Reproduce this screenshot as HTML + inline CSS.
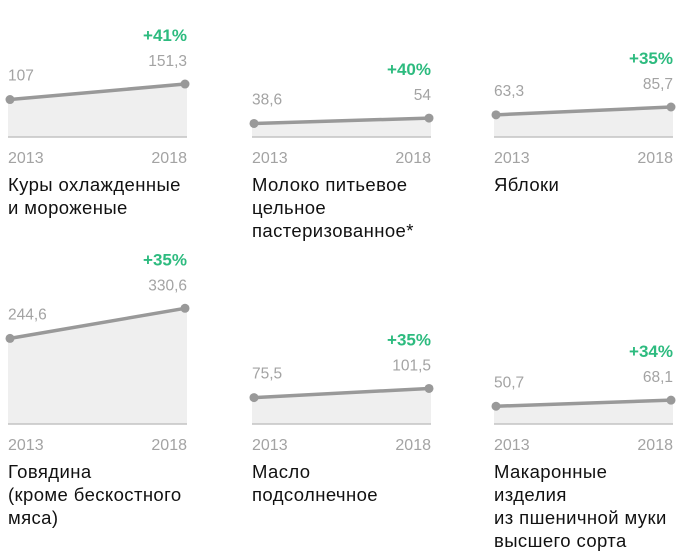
<!DOCTYPE html>
<html><head><meta charset="utf-8"><style>
body{margin:0;background:#fff;width:680px;height:556px;overflow:hidden;font-family:"Liberation Sans","DejaVu Sans",sans-serif}
svg{display:block}
</style></head><body>
<svg id="chart" width="680" height="556" xmlns="http://www.w3.org/2000/svg"></svg>
<script>
const titles=[["Куры охлажденные","и мороженые"],["Молоко питьевое","цельное","пастеризованное*"],["Яблоки"],["Говядина","(кроме бескостного","мяса)"],["Масло","подсолнечное"],["Макаронные","изделия","из пшеничной муки","высшего сорта"]];
const startVals=[107,38.6,63.3,244.6,75.5,50.7];
const endVals=[151.3,54,85.7,330.6,101.5,68.1];
const startLabels=["107","38,6","63,3","244,6","75,5","50,7"];
const endLabels=["151,3","54","85,7","330,6","101,5","68,1"];
const pctLabels=["+41%","+40%","+35%","+35%","+35%","+34%"];
const years=["2013","2018"];

const svg=document.getElementById('chart');
const NS='http://www.w3.org/2000/svg';
const colX=[8,252,494], W=179, baseY=[137,424], k=0.35;
function yScale(v,row){return baseY[row]-v*k;}
function mk(tag,attrs,parent){const e=document.createElementNS(NS,tag);for(const a in attrs)e.setAttribute(a,attrs[a]);(parent||svg).appendChild(e);return e;}
function txt(s,x,y,anchor,fill,size,weight,parent){const t=mk('text',{x:x,y:y,'text-anchor':anchor,fill:fill,'font-size':size,'font-weight':weight||'normal'},parent);t.textContent=s;return t;}
for(let i=0;i<6;i++){
  const row=Math.floor(i/3), x0=colX[i%3], x1=x0+W, b=baseY[row];
  const g=mk('g',{});
  
  
  const y0=yScale(startVals[i],row), y1=yScale(endVals[i],row);
  const ax0=x0+2, ax1=x1-2;
  const area=mk('polygon',{points:`${x0},${b} ${x0},${y0} ${ax0},${y0} ${ax1},${y1} ${x1},${y1} ${x1},${b}`,fill:'#efefef'},g);
  
  
  const base=mk('line',{x1:x0,x2:x1,y1:b,y2:b,stroke:'#c4c4c4','stroke-width':1.5},g);
  
  
  const ln=mk('line',{x1:ax0,y1:y0,x2:ax1,y2:y1,stroke:'#999','stroke-width':3.5},g);
  
  
  const d0=mk('circle',{cx:ax0,cy:y0,r:4.5,fill:'#999'},g);
  
  
  const d1=mk('circle',{cx:ax1,cy:y1,r:4.5,fill:'#999'},g);
  
  
  const l0=txt(startLabels[i],x0,y0-19,'start','#a3a3a3',15.5,'normal',g);
  
  
  const l1=txt(endLabels[i],x1,y1-18,'end','#a3a3a3',15.5,'normal',g);
  
  
  const p=txt(pctLabels[i],x1,y1-43,'end','#2dbb7f',17,'bold',g);
  
  
  const ya=txt(years[0],x0,b+26,'start','#a3a3a3',16,'normal',g);
  
  
  const yb=txt(years[1],x1,b+26,'end','#a3a3a3',16,'normal',g);
  
  
  titles[i].forEach((s,j)=>{
    const t=txt(s,x0,b+54+j*23,'start','#111',18.5,'normal',g);
    t.setAttribute('letter-spacing','0.4');
    
    
  });
}
</script>
</body></html>
